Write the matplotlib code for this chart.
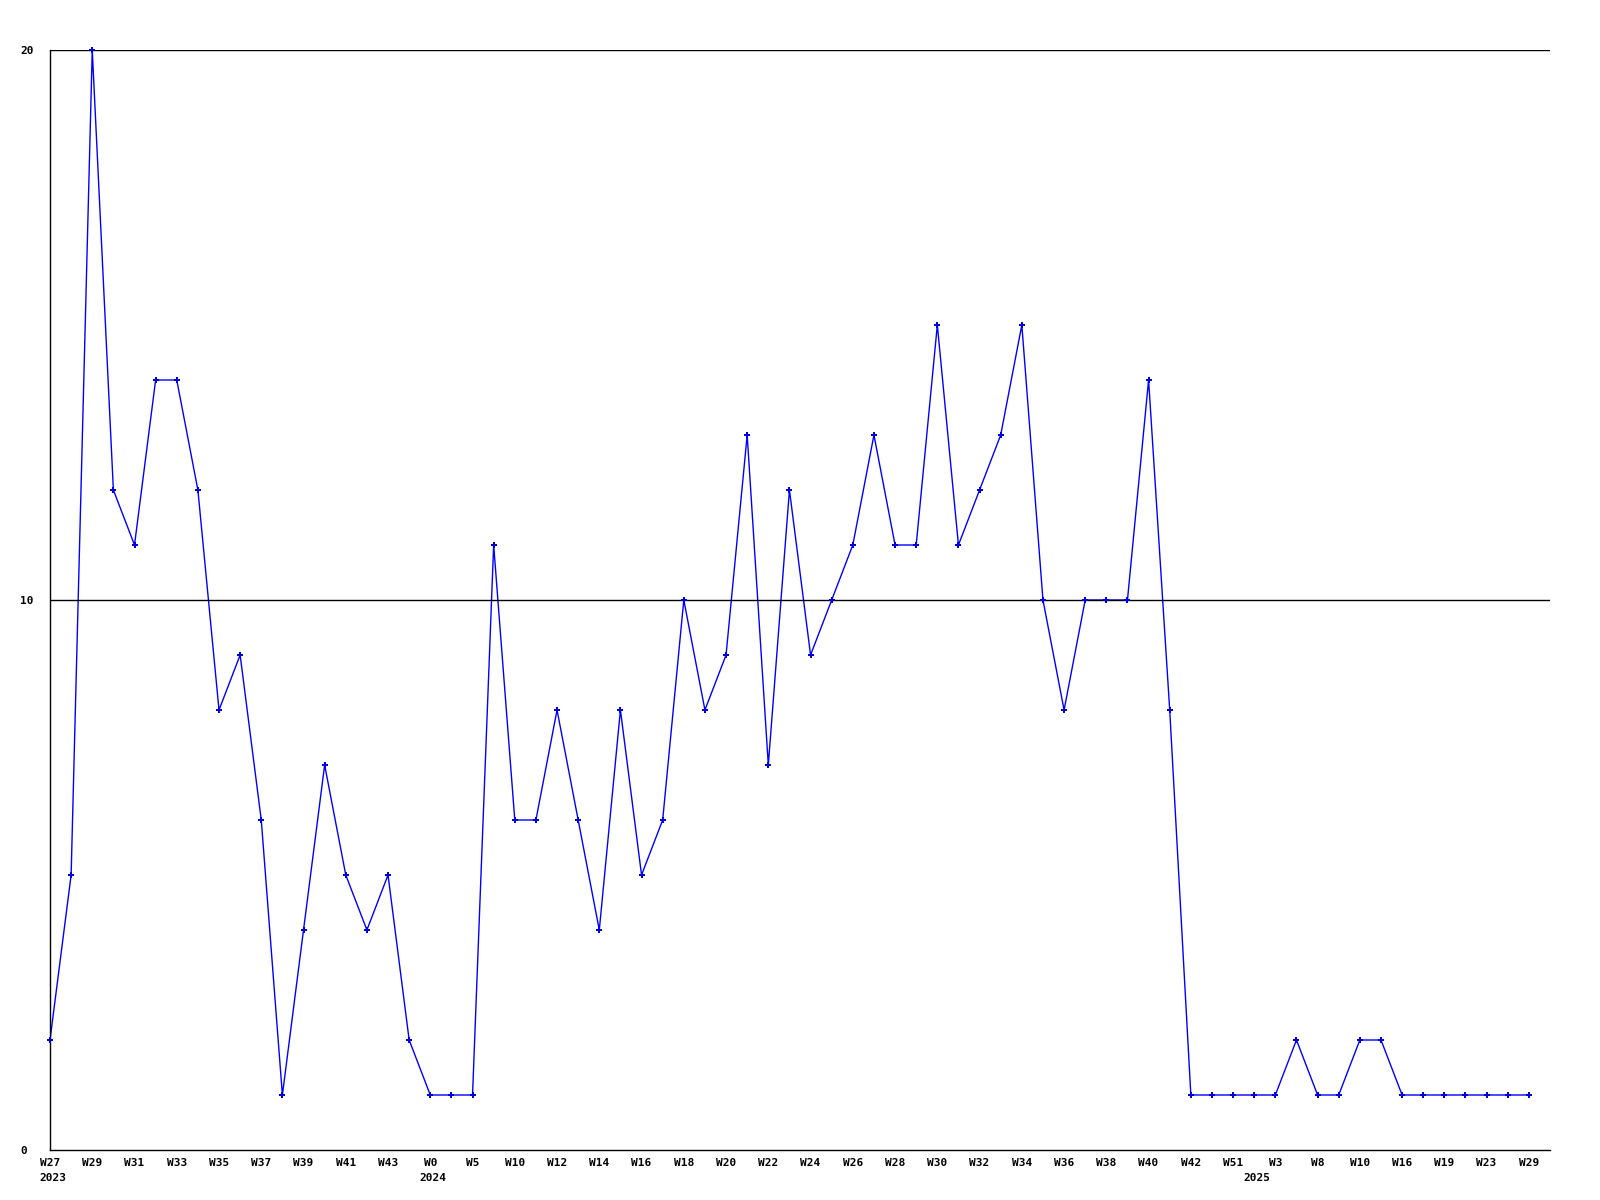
import matplotlib
matplotlib.use('Agg')
import matplotlib.pyplot as plt
from matplotlib import transforms

# weekly counts, one point per week shown in the reference
weeks = ['W27', 'W28', 'W29', 'W30', 'W31', 'W32', 'W33', 'W34', 'W35', 'W36',
         'W37', 'W38', 'W39', 'W40', 'W41', 'W42', 'W43', 'W48', 'W0', 'W3',
         'W5', 'W7', 'W10', 'W11', 'W12', 'W13', 'W14', 'W15', 'W16', 'W17',
         'W18', 'W19', 'W20', 'W21', 'W22', 'W23', 'W24', 'W25', 'W26', 'W27',
         'W28', 'W29', 'W30', 'W31', 'W32', 'W33', 'W34', 'W35', 'W36', 'W37',
         'W38', 'W39', 'W40', 'W41', 'W42', 'W47', 'W51', 'W1', 'W3', 'W6',
         'W8', 'W9', 'W10', 'W13', 'W16', 'W18', 'W19', 'W21', 'W23', 'W27',
         'W29']
values = [2, 5, 20, 12, 11, 14, 14, 12, 8, 9,
          6, 1, 4, 7, 5, 4, 5, 2, 1, 1,
          1, 11, 6, 6, 8, 6, 4, 8, 5, 6,
          10, 8, 9, 13, 7, 12, 9, 10, 11, 13,
          11, 11, 15, 11, 12, 13, 15, 10, 8, 10,
          10, 10, 14, 8, 1, 1, 1, 1, 1, 2,
          1, 1, 2, 2, 1, 1, 1, 1, 1, 1,
          1]
years = {0: '2023', 18: '2024', 57: '2025'}
y_ticks = [0, 10, 20]

fig = plt.figure(figsize=(16, 12), dpi=100)
ax = fig.add_axes([50 / 1600, 50 / 1200, 1500 / 1600, 1100 / 1200])

x = list(range(len(values)))
ax.plot(x, values, color='#0000ff', linewidth=1.0, zorder=2)
ax.plot(x, values, linestyle='none', marker='P', markersize=4,
        markeredgewidth=0, color='#0000dd', zorder=4, clip_on=False)

for t in y_ticks[1:]:
    ax.axhline(t, color='black', linewidth=1.0, zorder=3)

ax.set_xlim(0, len(values))
ax.set_ylim(0, 20)

font = dict(family='DejaVu Sans Mono', weight='bold', size=8)

ax.set_yticks(y_ticks)
ax.set_yticklabels([str(t) for t in y_ticks], **font)
for lbl in ax.get_yticklabels():
    lbl.set_horizontalalignment('left')
ax.tick_params(axis='y', length=0, pad=21.6)

ax.set_xticks(x[::2])
ax.set_xticklabels(weeks[::2], **font)
ax.tick_params(axis='x', length=0, pad=6)

# year labels under the first week of each year
trans = transforms.offset_copy(ax.get_xaxis_transform(), fig=fig, x=-10.5, y=-23, units='dots')
for i, yr in years.items():
    ax.text(i, 0, yr, transform=trans, ha='left', va='top', **font)

for side in ['top', 'right']:
    ax.spines[side].set_visible(False)
for side in ['left', 'bottom']:
    ax.spines[side].set_linewidth(1.0)
    ax.spines[side].set_zorder(3)

fig.savefig('out.png', dpi=100)
